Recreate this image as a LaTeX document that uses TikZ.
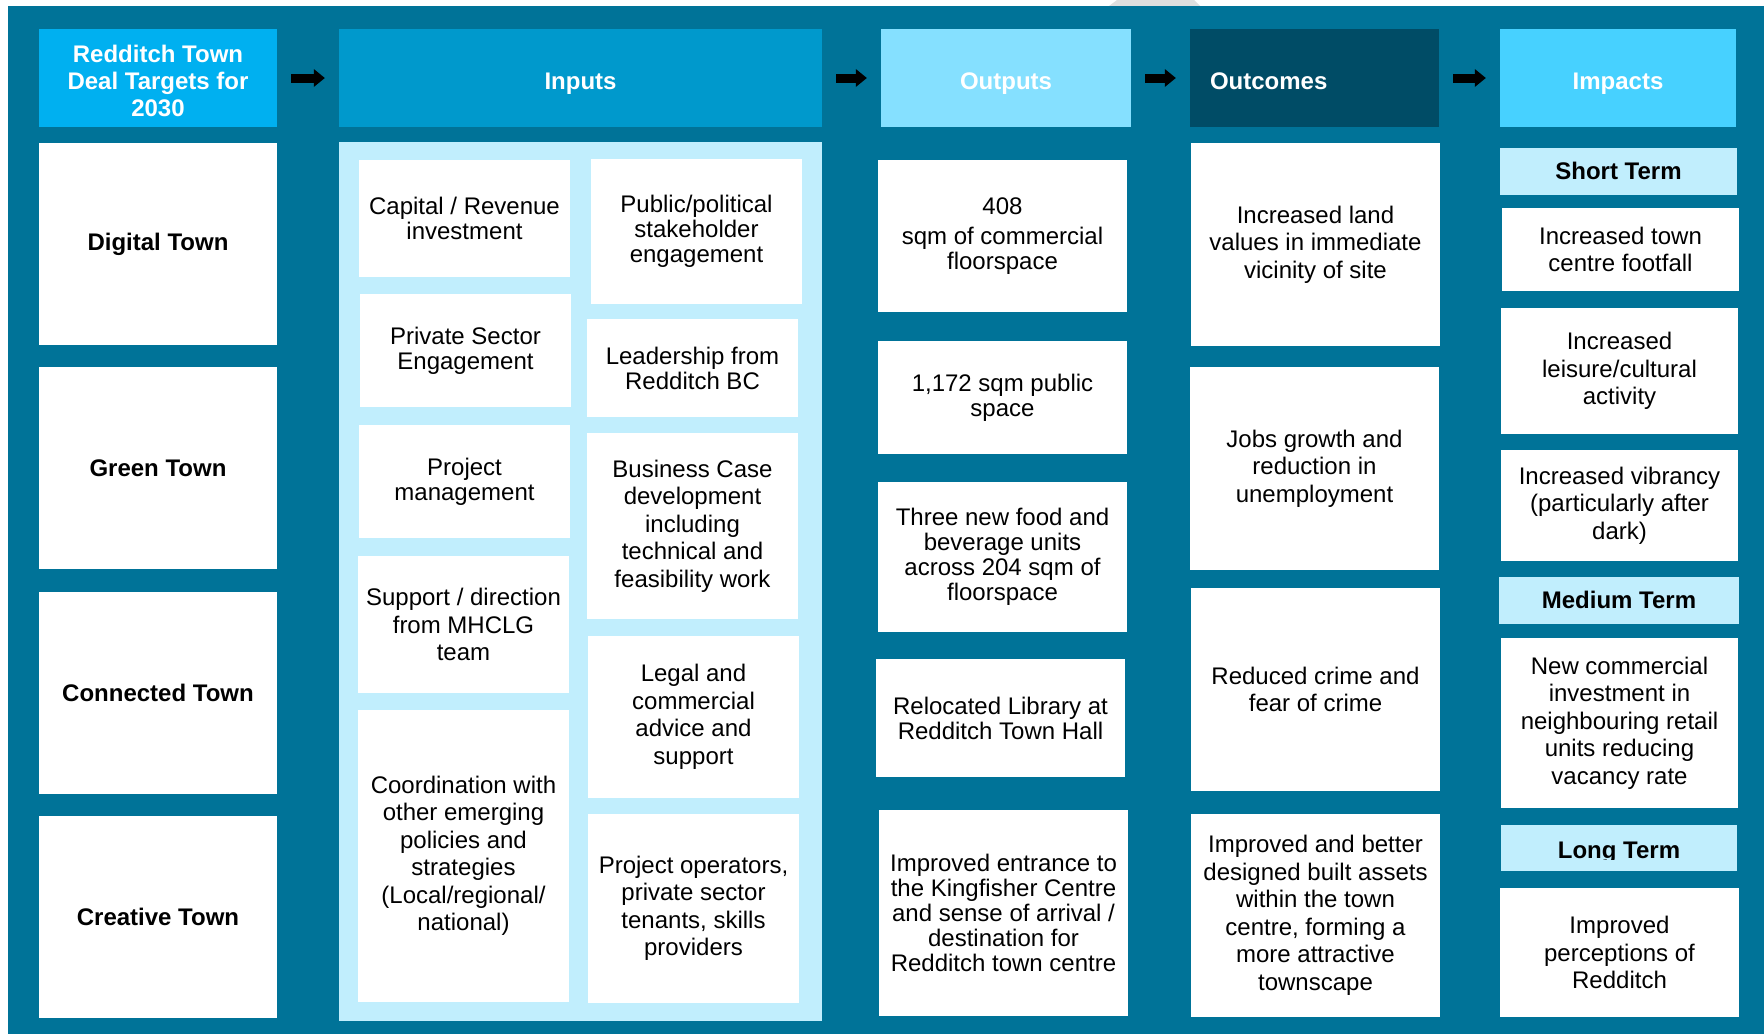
\documentclass[tikz,border=0pt]{standalone}
\usepackage{fontspec}
\setmainfont{Liberation Sans}
\usepackage{tikz}
\usetikzlibrary{arrows.meta}

\definecolor{bgteal}{RGB}{0,115,152}
\definecolor{targetblue}{RGB}{0,176,240}
\definecolor{inputblue}{RGB}{0,153,204}
\definecolor{outputblue}{RGB}{133,224,255}
\definecolor{outcomeblue}{RGB}{0,76,102}
\definecolor{impactblue}{RGB}{71,209,255}
\definecolor{paleblue}{RGB}{193,238,253}

\begin{document}
\begin{tikzpicture}[x=1pt, y=-1pt,
    txt/.style={align=center, inner sep=0pt, font=\fontsize{24}{27.5}\selectfont},
    tight/.style={font=\fontsize{24}{25}\selectfont},
    cell/.style={txt, fill=white, text=black},
    target/.style={cell, font=\fontsize{24}{27}\selectfont\bfseries, minimum width=238pt, minimum height=202pt},
    head/.style={txt, fill=#1, text=white, font=\fontsize{24}{27}\selectfont\bfseries, minimum height=98pt},
    word/.style={text height=23pt, text depth=0pt},
    term/.style={txt, fill=paleblue, text=black, font=\fontsize{24}{27}\selectfont\bfseries, text height=17pt, text depth=0pt},
    flow/.style={line width=9pt, -{Triangle[length=11pt, width=18pt, line width=0pt]}, shorten <=14pt, shorten >=14pt}]

  \useasboundingbox (0,0) rectangle (1764,1034);
  \fill[white] (0,0) rectangle (1764,1034);
  \fill[gray!25] (1109,6) -- (1117,0) -- (1194,0) -- (1200,6) -- cycle;
  \fill[bgteal] (8,6) rectangle (1764,1034);

  % column heads
  \node[head=targetblue, minimum width=238pt, text height=77pt, text depth=0pt] (hd1) at (158,78) {Redditch Town\\Deal Targets for\\2030};
  \node[head=inputblue, word, minimum width=483pt] (hd2) at (580.5,78) {Inputs};
  \node[head=outputblue, word, minimum width=250pt] (hd3) at (1006,78) {Outputs};
  \node[head=outcomeblue, word, text width=209pt, align=left, inner xsep=20pt] (hd4) at (1314.5,78) {Outcomes};
  \node[head=impactblue, word, minimum width=236pt] (hd5) at (1618,78) {Impacts};

  \draw[flow] (hd1) -- (hd2);
  \draw[flow] (hd2) -- (hd3);
  \draw[flow] (hd3) -- (hd4);
  \draw[flow] (hd4) -- (hd5);

  % targets
  \node[target] (tg1) at (158,244) {Digital Town};
  \node[target] (tg2) at (158,468) {Green Town};
  \node[target] (tg3) at (158,692.5) {Connected Town};
  \node[target] (tg4) at (158,917) {Creative Town};

  % inputs
  \node[fill=paleblue, inner sep=0pt, minimum width=483pt, minimum height=879pt] (panel) at (580.5,581.2) {};
  \node[cell, tight, minimum width=211pt, minimum height=117pt] (in1) at (464.5,218.5) {Capital / Revenue\\investment};
  \node[cell, tight, minimum width=211pt, minimum height=145pt] (in2) at (696.5,231.5) {Public/political\\stakeholder\\engagement};
  \node[cell, tight, minimum width=211pt, minimum height=113pt] (in3) at (465.5,350.5) {Private Sector\\Engagement};
  \node[cell, tight, minimum width=211pt, minimum height=98pt] (in4) at (692.5,368) {Leadership from\\Redditch BC};
  \node[cell, tight, minimum width=211pt, minimum height=113pt] (in5) at (464.5,481.5) {Project\\management};
  \node[cell, minimum width=211pt, minimum height=186pt] (in6) at (692.5,526) {Business Case\\development\\including\\technical and\\feasibility work};
  \node[cell, minimum width=211pt, minimum height=137pt] (in7) at (463.5,624.5) {Support / direction\\from MHCLG\\team};
  \node[cell, minimum width=211pt, minimum height=162pt] (in8) at (693.5,717) {Legal and\\commercial\\advice and\\support};
  \node[cell, minimum width=211pt, minimum height=292pt] (in9) at (463.5,856) {Coordination with\\other emerging\\policies and\\strategies\\(Local/regional/\\national)};
  \node[cell, minimum width=211pt, minimum height=189pt] (in10) at (693.5,908.5) {Project operators,\\private sector\\tenants, skills\\providers};

  % outputs
  \node[cell, tight, minimum width=249pt, minimum height=152pt] (op1) at (1002.5,236) {408\\[4.5pt]sqm of commercial\\floorspace};
  \node[cell, tight, minimum width=249pt, minimum height=113pt] (op2) at (1002.5,397.5) {1,172 sqm public\\space};
  \node[cell, tight, minimum width=249pt, minimum height=150pt] (op3) at (1002.5,557) {Three new food and\\beverage units\\across 204 sqm of\\floorspace};
  \node[cell, tight, minimum width=249pt, minimum height=118pt] (op4) at (1000.5,718) {Relocated Library at\\Redditch Town Hall};
  \node[cell, tight, minimum width=249pt, minimum height=206pt] (op5) at (1003.5,913) {Improved entrance to\\the Kingfisher Centre\\and sense of arrival /\\destination for\\Redditch town centre};

  % outcomes
  \node[cell, minimum width=249pt, minimum height=203pt] (oc1) at (1315.5,244.5) {Increased land\\values in immediate\\vicinity of site};
  \node[cell, minimum width=249pt, minimum height=203pt] (oc2) at (1314.5,468.5) {Jobs growth and\\reduction in\\unemployment};
  \node[cell, minimum width=249pt, minimum height=203pt] (oc3) at (1315.5,689.5) {Reduced crime and\\fear of crime};
  \node[cell, minimum width=249pt, minimum height=203pt] (oc4) at (1315.5,915.5) {Improved and better\\designed built assets\\within the town\\centre, forming a\\more attractive\\townscape};

  % impacts
  \node[term, minimum width=237pt, minimum height=47pt] (st) at (1618.5,171) {Short Term};
  \node[cell, minimum width=237pt, minimum height=83pt] (im1) at (1620.5,249.5) {Increased town\\centre footfall};
  \node[cell, minimum width=237pt, minimum height=126pt] (im2) at (1619.5,371) {Increased\\leisure/cultural\\activity};
  \node[cell, minimum width=237pt, minimum height=111pt] (im3) at (1619.5,505.5) {Increased vibrancy\\(particularly after\\dark)};
  \node[term, minimum width=240pt, minimum height=47pt] (mt) at (1619,600) {Medium Term};
  \node[cell, minimum width=237pt, minimum height=170pt] (im4) at (1619.5,723) {New commercial\\investment in\\neighbouring retail\\units reducing\\vacancy rate};
  \node[term, minimum width=236pt, minimum height=46pt] (lt) at (1619,848) {};
  \begin{scope}
    \clip (1501,825) rectangle (1737,859);
    \node[term, fill=none] (ltx) at (1619,850) {Long Term};
  \end{scope}
  \node[cell, minimum width=239pt, minimum height=129pt] (im5) at (1619.5,952.5) {Improved\\perceptions of\\Redditch};
\end{tikzpicture}
\end{document}
